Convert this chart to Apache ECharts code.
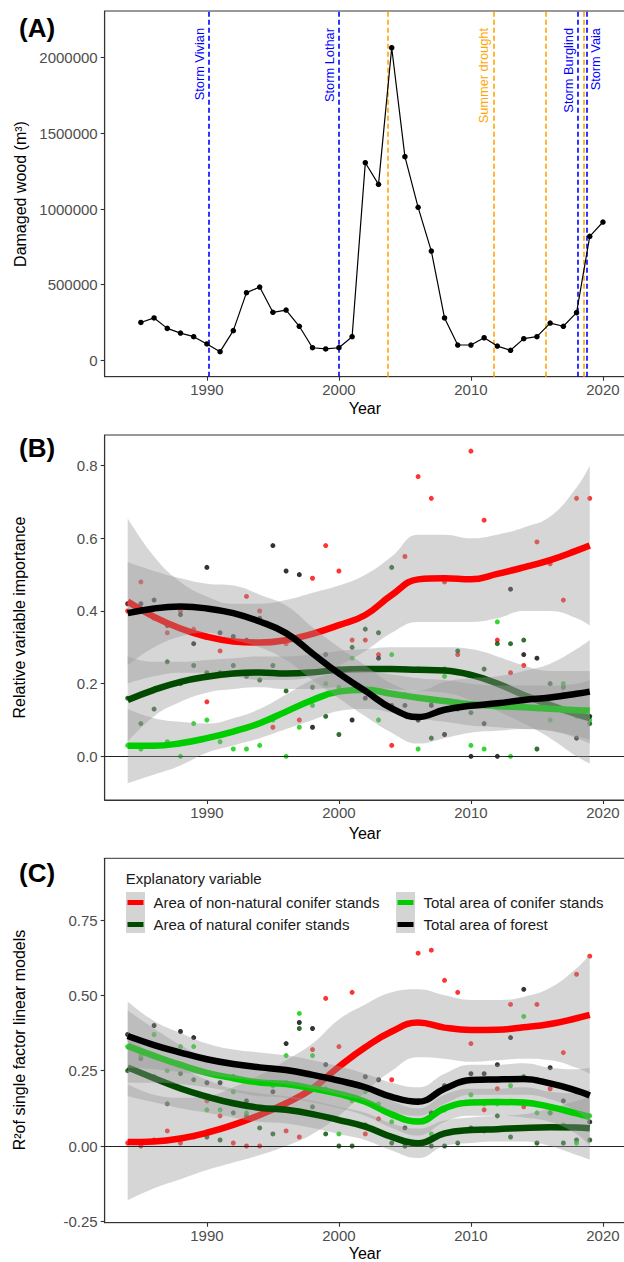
<!DOCTYPE html>
<html><head><meta charset="utf-8">
<script src="https://cdn.jsdelivr.net/npm/echarts@6/dist/echarts.min.js"></script>
<style>html,body{margin:0;padding:0;background:#fff}#c{width:624px;height:1262px}</style>
</head><body><div id="c"></div>
<script>
// ---------- Panel A data ----------
const yearsA = [1985,1986,1987,1988,1989,1990,1991,1992,1993,1994,1995,1996,1997,1998,1999,2000,2001,2002,2003,2004,2005,2006,2007,2008,2009,2010,2011,2012,2013,2014,2015,2016,2017,2018,2019,2020];
const damagedWood = [250000,280000,211000,180000,156000,108000,57000,196000,447000,484000,317000,332000,225000,83000,75000,83000,156000,1306000,1163000,2066000,1346000,1011000,722000,280000,101000,101000,149000,94000,66000,143000,156000,246000,225000,315000,819000,914000];
const eventYears  = [1990.15, 1999.97, 2003.7, 2011.7, 2015.7, 2018.08, 2018.57, 2018.75];
const eventLabels = ['Storm Vivian','Storm Lothar','','Summer drought','','Storm Burglind','','Storm Vaia'];
const eventKinds  = ['storm','storm','drought','drought','drought','storm','drought','storm'];
const eventSides  = ['left','left','left','left','left','left','left','right'];
const tickA = [0,500000,1000000,1500000,2000000];

// ---------- Panels B & C: yearly points ----------
const yearsBC = [1984,1985,1986,1987,1988,1989,1990,1991,1992,1993,1994,1995,1996,1997,1998,1999,2000,2001,2002,2003,2004,2005,2006,2007,2008,2009,2010,2011,2012,2013,2014,2015,2016,2017,2018,2019];
const redB   = [0.40,0.48,0.38,0.34,0.40,0.35,0.15,0.29,0.32,0.44,0.40,0.08,0.31,0.10,0.49,0.58,0.51,0.32,0.32,0.28,0.03,0.55,0.77,0.71,0.48,0.28,0.84,0.65,0.32,0.23,0.25,0.59,0.53,0.43,0.71,0.71];
const dkB    = [0.16,0.09,0.13,0.26,0.20,0.25,0.23,0.23,0.25,0.22,0.21,0.25,0.18,0.23,0.19,0.11,0.06,0.30,0.35,0.34,0.52,0.24,0.24,0.05,0.24,0.29,0.12,0.24,0.31,0.31,0.32,0.02,0.20,0.19,0.12,0.09];
const grB    = [0.03,0.02,0.03,0.04,0.00,0.09,0.10,0.04,0.02,0.02,0.03,0.10,0.00,0.08,0.14,0.20,0.19,0.27,0.18,0.10,0.28,0.17,0.02,0.15,0.22,0.15,0.03,0.02,0.37,0.00,0.14,0.13,0.10,0.20,0.11,0.10];
const blB    = [0.42,0.42,0.43,0.36,0.39,0.31,0.52,0.34,0.33,0.32,0.38,0.58,0.51,0.50,0.08,0.28,0.24,0.10,0.16,0.27,0.14,0.14,0.10,0.14,0.06,0.13,0.00,0.09,0.00,0.46,0.28,0.27,0.16,0.17,0.05,0.11];
const redC   = [0.01,0.00,0.02,0.05,0.01,0.03,0.15,0.10,0.01,0.00,0.00,0.12,0.05,0.03,0.32,0.49,0.33,0.51,0.04,0.09,0.22,0.40,0.64,0.65,0.55,0.51,0.34,0.12,0.19,0.47,0.13,0.47,0.19,0.31,0.57,0.63];
const dkC    = [0.25,0.29,0.23,0.14,0.24,0.22,0.03,0.02,0.11,0.10,0.06,0.04,0.21,0.39,0.13,0.04,0.00,0.00,0.07,0.05,0.01,0.00,0.01,0.00,0.00,0.01,0.06,0.05,0.10,0.03,0.23,0.01,0.11,0.01,0.02,0.02];
const grC    = [0.33,0.30,0.37,0.25,0.33,0.33,0.12,0.12,0.18,0.11,0.21,0.20,0.30,0.44,0.30,0.19,0.04,0.15,0.18,0.14,0.08,0.09,0.08,0.04,0.12,0.14,0.17,0.14,0.14,0.20,0.43,0.11,0.11,0.07,0.01,0.10];
const blC    = [0.37,0.35,0.40,0.32,0.38,0.36,0.21,0.21,0.23,0.15,0.26,0.18,0.34,0.41,0.39,0.27,0.22,0.21,0.23,0.22,0.16,0.06,0.15,0.11,0.20,0.21,0.24,0.24,0.27,0.36,0.52,0.22,0.26,0.15,0.18,0.08];

// ---------- Panels B & C: smoothed fits and confidence bands (read at knot years) ----------
const knotYears = [1984,1986,1988,1990,1992,1994,1996,1998,2000,2002,2004,2006,2008,2010,2012,2014,2016,2018,2019];
const fitRedB = [0.426,0.384,0.352,0.329,0.316,0.313,0.320,0.337,0.361,0.389,0.444,0.487,0.490,0.487,0.502,0.520,0.540,0.566,0.580];
const loRedB  = [0.20,0.22,0.23,0.23,0.22,0.21,0.21,0.22,0.25,0.29,0.34,0.37,0.37,0.37,0.38,0.40,0.40,0.38,0.36];
const hiRedB  = [0.655,0.55,0.48,0.44,0.42,0.42,0.43,0.45,0.47,0.50,0.55,0.61,0.61,0.60,0.61,0.63,0.66,0.74,0.80];
const fitDkB  = [0.155,0.183,0.205,0.219,0.228,0.231,0.228,0.231,0.238,0.240,0.240,0.238,0.236,0.224,0.200,0.169,0.141,0.116,0.105];
const loDkB   = [0.04,0.11,0.15,0.175,0.185,0.19,0.185,0.185,0.19,0.19,0.185,0.18,0.175,0.155,0.125,0.09,0.05,0.0,-0.02];
const hiDkB   = [0.275,0.26,0.26,0.265,0.27,0.275,0.275,0.28,0.29,0.295,0.30,0.30,0.30,0.295,0.275,0.25,0.235,0.235,0.235];
const fitGrB  = [0.029,0.029,0.036,0.050,0.068,0.091,0.123,0.155,0.178,0.183,0.172,0.161,0.152,0.143,0.138,0.135,0.131,0.127,0.126];
const loGrB   = [-0.074,-0.05,-0.025,0.01,0.03,0.05,0.075,0.10,0.125,0.13,0.12,0.105,0.095,0.085,0.08,0.075,0.07,0.055,0.045];
const hiGrB   = [0.13,0.105,0.095,0.09,0.105,0.13,0.17,0.21,0.23,0.235,0.225,0.215,0.21,0.20,0.195,0.195,0.195,0.20,0.21];
const fitBlB  = [0.394,0.407,0.412,0.407,0.394,0.371,0.339,0.283,0.228,0.180,0.132,0.108,0.128,0.139,0.146,0.155,0.162,0.172,0.178];
const loBlB   = [0.25,0.30,0.33,0.34,0.32,0.30,0.265,0.21,0.16,0.11,0.065,0.035,0.05,0.065,0.07,0.075,0.07,0.05,0.035];
const hiBlB   = [0.535,0.51,0.49,0.475,0.47,0.445,0.415,0.355,0.30,0.25,0.20,0.18,0.205,0.215,0.22,0.235,0.255,0.295,0.32];

const fitRedC = [0.013,0.015,0.025,0.044,0.070,0.103,0.142,0.191,0.263,0.328,0.380,0.410,0.393,0.385,0.386,0.394,0.405,0.424,0.435];
const loRedC  = [-0.18,-0.14,-0.11,-0.08,-0.055,-0.03,0.0,0.04,0.10,0.18,0.25,0.295,0.29,0.28,0.285,0.29,0.285,0.26,0.24];
const hiRedC  = [0.205,0.17,0.16,0.165,0.195,0.235,0.285,0.34,0.42,0.47,0.51,0.52,0.50,0.485,0.485,0.495,0.525,0.59,0.635];
const fitDkC  = [0.261,0.225,0.191,0.164,0.142,0.127,0.120,0.106,0.086,0.064,0.030,0.009,0.042,0.053,0.056,0.060,0.062,0.061,0.059];
const loDkC   = [0.165,0.145,0.125,0.11,0.095,0.08,0.075,0.06,0.04,0.02,-0.015,-0.04,0.0,0.01,0.015,0.015,0.0,-0.03,-0.045];
const hiDkC   = [0.36,0.305,0.26,0.22,0.19,0.175,0.165,0.15,0.13,0.11,0.075,0.058,0.085,0.095,0.10,0.105,0.125,0.15,0.163];
const fitGrC  = [0.332,0.299,0.269,0.243,0.225,0.211,0.206,0.191,0.173,0.147,0.105,0.081,0.125,0.144,0.146,0.144,0.130,0.108,0.097];
const loGrC   = [0.21,0.21,0.205,0.195,0.18,0.165,0.16,0.145,0.125,0.10,0.06,0.035,0.08,0.10,0.10,0.095,0.08,0.04,0.0];
const hiGrC   = [0.45,0.39,0.335,0.29,0.27,0.255,0.25,0.24,0.22,0.195,0.15,0.125,0.17,0.19,0.19,0.195,0.18,0.175,0.19];
const fitBlC  = [0.365,0.335,0.310,0.288,0.272,0.261,0.252,0.236,0.217,0.195,0.163,0.147,0.190,0.219,0.221,0.222,0.208,0.184,0.168];
const loBlC   = [0.26,0.255,0.245,0.235,0.225,0.215,0.205,0.19,0.17,0.15,0.115,0.10,0.14,0.17,0.17,0.17,0.155,0.115,0.075];
const hiBlC   = [0.48,0.415,0.375,0.34,0.32,0.31,0.30,0.285,0.265,0.24,0.21,0.195,0.24,0.27,0.27,0.275,0.26,0.255,0.26];

const yearTicks = [1990,2000,2010,2020];
const tickB = [0,0.2,0.4,0.6,0.8];
const tickC = [-0.25,0,0.25,0.5,0.75];
const varNames = ['Area of non-natural conifer stands','Area of natural conifer stands','Total area of conifer stands','Total area of forest'];

// ---------- styling ----------
const FONT = "'Liberation Sans', Arial, Helvetica, sans-serif";
const COLORS = ['#ff0000','#004b00','#00cd00','#000000'];
const STORM = '#0000ff', DROUGHT = '#ffa500';
const AXC = '#333333', TICKC = '#4d4d4d';
const X_MIN = 1982.26, X_MAX = 2021.67;
const SM = 0.45;

const chart = echarts.init(document.getElementById('c'), null, {renderer:'svg', width:624, height:1262});

const grids = [
  {left:104.7, top:11,    width:520.3, height:365.7},
  {left:104.7, top:435,   width:520.3, height:365},
  {left:104.7, top:858.3, width:520.3, height:364.4}
].map(g => Object.assign({show:true, borderColor:AXC, borderWidth:1, backgroundColor:'transparent', containLabel:false, outerBoundsMode:'none'}, g));

const nameGaps = [24, 25, 23];
const xAxes = [0,1,2].map(i => ({
  gridIndex:i, type:'value', min:X_MIN, max:X_MAX, splitLine:{show:false},
  axisLine:{show:true, onZero:false, lineStyle:{color:AXC, width:1.1}},
  axisTick:{show:true, length:4, customValues:yearTicks, lineStyle:{color:AXC, width:1.1}},
  axisLabel:{customValues:yearTicks, formatter:v=>String(v), color:TICKC, fontSize:15, fontFamily:FONT, margin:5},
  name:'Year', nameLocation:'middle', nameGap:nameGaps[i],
  nameTextStyle:{color:'#000', fontSize:16, fontFamily:FONT}
}));
function yAx(i, min, max, ticks, fmt){
  return {gridIndex:i, type:'value', min, max, splitLine:{show:false},
    axisLine:{show:true, onZero:false, lineStyle:{color:AXC, width:1.1}},
    axisTick:{show:true, length:4, customValues:ticks, lineStyle:{color:AXC, width:1.1}},
    axisLabel:{customValues:ticks, formatter:fmt, color:TICKC, fontSize:15, fontFamily:FONT, margin:7}};
}
const yAxes = [
  yAx(0, -108400, 2308700, tickA, v=>String(v)),
  yAx(1, -0.1203, 0.8844, tickB, v=>Number(v).toFixed(1)),
  yAx(2, -0.2546, 0.955, tickC, v=>Number(v).toFixed(2))
];

const series = [];

// Panel A
series.push({
  type:'line', name:'Damaged wood', xAxisIndex:0, yAxisIndex:0, z:5,
  data: yearsA.map((y,i)=>[y, damagedWood[i]]),
  lineStyle:{color:'#000', width:1.2}, itemStyle:{color:'#000'},
  symbol:'circle', symbolSize:5.5, showSymbol:true, animation:false,
  markLine:{
    silent:true, symbol:['none','none'], animation:false,
    lineStyle:{type:[5,3], width:1.6},
    data: eventYears.map((y,i)=>{
      const col = eventKinds[i]==='storm' ? STORM : DROUGHT;
      return {xAxis:y, lineStyle:{color:col, type:[5,3], width:1.6},
        label:{show: eventLabels[i] !== '', formatter: eventLabels[i],
          position: eventSides[i]==='right' ? 'insideEndBottom' : 'insideEndTop',
          color: col, fontSize:12.8, fontFamily:FONT, distance:[17,3]}};
    })
  }
});

// Panels B & C
const panels = [
  {gi:1, pts:[redB,dkB,grB,blB], fit:[fitRedB,fitDkB,fitGrB,fitBlB], lo:[loRedB,loDkB,loGrB,loBlB], hi:[hiRedB,hiDkB,hiGrB,hiBlB]},
  {gi:2, pts:[redC,dkC,grC,blC], fit:[fitRedC,fitDkC,fitGrC,fitBlC], lo:[loRedC,loDkC,loGrC,loBlC], hi:[hiRedC,hiDkC,hiGrC,hiBlC]}
];
panels.forEach(p => {
  p.pts.forEach((arr,k) => {
    series.push({type:'scatter', name:'pts'+p.gi+'_'+k, xAxisIndex:p.gi, yAxisIndex:p.gi, z:2,
      data: yearsBC.map((y,i)=>[y, arr[i]]), symbolSize:5, itemStyle:{color:COLORS[k]}, animation:false, silent:true});
  });
  for (let k=0;k<4;k++){
    const stackId = 'band'+p.gi+'_'+k;
    // confidence band: lower edge (invisible) + band width stacked on top (value in column 0 -> y)
    series.push({type:'line', name:stackId+'lo', xAxisIndex:p.gi, yAxisIndex:p.gi, z:3+2*k,
      stack:stackId, stackStrategy:'all', encode:{x:1, y:0},
      data: knotYears.map((y,i)=>[p.lo[k][i], y]),
      lineStyle:{opacity:0, width:0}, symbol:'none', smooth:SM, animation:false, silent:true});
    series.push({type:'line', name:stackId+'hi', xAxisIndex:p.gi, yAxisIndex:p.gi, z:3+2*k,
      stack:stackId, stackStrategy:'all', encode:{x:1, y:0},
      data: knotYears.map((y,i)=>[p.hi[k][i]-p.lo[k][i], y]),
      lineStyle:{opacity:0, width:0}, areaStyle:{color:'#999999', opacity:0.4},
      symbol:'none', smooth:SM, animation:false, silent:true});
    series.push({type:'line', name: p.gi===2 ? varNames[k] : 'fitB'+k, xAxisIndex:p.gi, yAxisIndex:p.gi, z:4+2*k,
      data: knotYears.map((y,i)=>[y, p.fit[k][i]]),
      lineStyle:{color:COLORS[k], width:6.5, cap:'butt'}, itemStyle:{color:COLORS[k]},
      symbol:'none', smooth:SM, animation:false, silent:true});
  }
  // horizontal reference line at zero
  series.push({type:'line', name:'zero'+p.gi, xAxisIndex:p.gi, yAxisIndex:p.gi, z:12,
    data:[[knotYears[0],0]], symbol:'none', lineStyle:{opacity:0}, animation:false, silent:true,
    markLine:{silent:true, symbol:['none','none'], animation:false, label:{show:false},
      lineStyle:{color:'#222', type:'solid', width:1.2}, data:[{yAxis:0}]}});
});

const legendCommon = {orient:'vertical', itemWidth:16, itemHeight:5, itemGap:7, padding:0, selectedMode:false, z:40,
  textStyle:{fontSize:15, color:'#1a1a1a', fontFamily:FONT, padding:[0,0,0,5]}};
const legends = [
  Object.assign({left:127.5, top:895, data:[0,1].map(k=>({name:varNames[k], icon:'rect', itemStyle:{color:COLORS[k], borderWidth:0}, lineStyle:{width:0, opacity:0}}))}, legendCommon),
  Object.assign({left:397.5, top:895, data:[2,3].map(k=>({name:varNames[k], icon:'rect', itemStyle:{color:COLORS[k], borderWidth:0}, lineStyle:{width:0, opacity:0}}))}, legendCommon)
];

const txt = (text, x, y, opts) => Object.assign({type:'text', x, y, silent:true,
  style:Object.assign({text, fontSize:16, fontFamily:FONT, fill:'#000', align:'center', verticalAlign:'middle'}, (opts&&opts.style)||{})},
  (opts&&opts.el)||{});

const graphic = {z:30, elements:[
  txt('(A)', 19, 28, {style:{fontSize:26, fontWeight:'bold', align:'left'}}),
  txt('(B)', 19, 448, {style:{fontSize:26, fontWeight:'bold', align:'left'}}),
  txt('(C)', 19, 873, {style:{fontSize:26, fontWeight:'bold', align:'left'}}),
  txt('Damaged wood (m³)', 20.5, 194, {el:{rotation:Math.PI/2}}),
  txt('Relative variable importance', 19.5, 617.5, {el:{rotation:Math.PI/2}}),
  txt('R²of single factor linear models', 19.5, 1040, {el:{rotation:Math.PI/2}}),
  txt('Explanatory variable', 125.7, 878, {style:{fontSize:15, align:'left', fill:'#1a1a1a'}}),
  {type:'rect', silent:true, shape:{x:126, y:892, width:19, height:41}, style:{fill:'#d4d4d4', stroke:null}},
  {type:'rect', silent:true, shape:{x:396, y:892, width:19, height:41}, style:{fill:'#d4d4d4', stroke:null}}
]};

chart.setOption({
  animation:false,
  backgroundColor:'#ffffff',
  textStyle:{fontFamily:FONT},
  grid:grids, xAxis:xAxes, yAxis:yAxes, series, legend:legends, graphic
});
</script></body></html>
